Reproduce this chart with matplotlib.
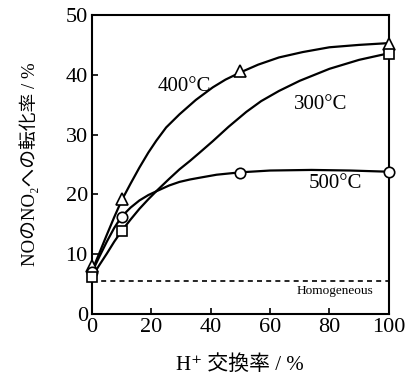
import matplotlib
matplotlib.use("Agg")
import matplotlib.pyplot as plt

plt.rcParams['font.family'] = ['Liberation Serif', 'Noto Sans CJK JP', 'DejaVu Serif']

# measured points
x_400 = [0, 10, 50, 100]
y_400 = [8, 19.2, 40.7, 45.2]
x_300 = [0, 10, 100]
y_300 = [6.2, 13.9, 43.5]
x_500 = [0, 10, 50, 100]
y_500 = [7, 16.3, 23.6, 23.7]
homogeneous = 5.6

# hand-drawn trend curves
cx_400 = [0, 2.5, 4.8, 7.5, 10, 13, 16, 19, 21.7, 25, 29.5, 35, 40.7, 45, 50, 56, 63, 71, 80, 90, 100]
cy_400 = [7.2, 10.2, 13, 16.2, 19.0, 21.8, 24.5, 27, 29, 31.2, 33.4, 35.8, 37.9, 39.2, 40.4, 41.7, 42.9, 43.8, 44.6, 45.0, 45.3]
cx_300 = [0, 2.5, 5, 7.5, 10, 13, 16, 19, 22, 26, 29.5, 33, 36.3, 40.7, 46, 52, 57, 63, 70, 80, 90, 100]
cy_300 = [6.2, 8.2, 10.1, 12.1, 13.9, 15.8, 17.6, 19.2, 20.7, 22.6, 24.2, 25.6, 27, 28.9, 31.3, 33.8, 35.6, 37.3, 39, 41, 42.5, 43.6]
cx_500 = [0, 2.5, 5, 7.5, 10, 13, 16, 19, 22, 26, 29.5, 33, 36.3, 42, 50, 60, 74, 87, 100]
cy_500 = [7, 9.6, 12.1, 14.4, 16.3, 17.8, 19, 19.9, 20.6, 21.5, 22.1, 22.5, 22.8, 23.3, 23.7, 24.0, 24.1, 24.0, 23.8]

fig = plt.figure(figsize=(4.05, 3.84), dpi=100)
ax = fig.add_axes([0.227, 0.182, 0.733, 0.779])

for cx, cy in [(cx_400, cy_400), (cx_300, cy_300), (cx_500, cy_500)]:
    ax.plot(cx, cy, '-', color='black', lw=1.6, zorder=2, solid_joinstyle='round')

ax.axhline(homogeneous, color='black', lw=1.2, ls=(0, (3, 2.5)), zorder=1)

mk = dict(ls='none', mfc='white', mec='black', mew=1.2, zorder=3, clip_on=False)
ax.plot(x_400, y_400, marker='^', ms=8.5, **mk)
ax.plot(x_500, y_500, marker='o', ms=7.5, **mk)
ax.plot(x_300, y_300, marker='s', ms=7, **mk)

ax.text(31, 38, '400°C', fontsize=15, ha='center', va='center')
ax.text(77, 35, '300°C', fontsize=15, ha='center', va='center')
ax.text(82, 21.8, '500°C', fontsize=15, ha='center', va='center')
ax.text(82, 3.8, 'Homogeneous', fontsize=9.5, ha='center', va='center')

ax.set_xlim(0, 100)
ax.set_ylim(0, 50)
ax.set_xticks([0, 20, 40, 60, 80, 100])
ax.set_yticks([0, 10, 20, 30, 40, 50])
ax.tick_params(direction='in', length=4, width=1.2, labelsize=16, pad=3)
for s in ax.spines.values():
    s.set_linewidth(1.5)

ax.set_xlabel('H⁺ 交換率 / %', fontsize=15, labelpad=13)
ax.set_ylabel('NOのNO₂への転化率 / %', fontsize=13.5, labelpad=19)

fig.savefig('out.png', dpi=100)
